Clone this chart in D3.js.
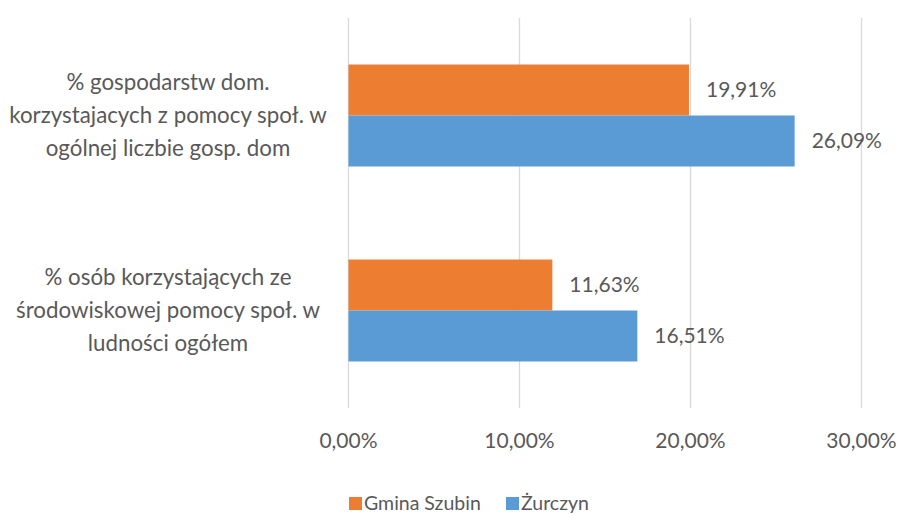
<!DOCTYPE html>
<html><head><meta charset="utf-8">
<script src="https://cdn.jsdelivr.net/npm/d3@7"></script>
<style>body{margin:0;background:#fff}svg{display:block}text{font-family:Lato,"Open Sans",sans-serif;fill:#595959}</style>
</head><body><div id="c"></div>
<script>
const categories = [
  ["% gospodarstw dom.", "korzystajacych z pomocy społ. w", "ogólnej liczbie gosp. dom"],
  ["% osób korzystających ze", "środowiskowej pomocy społ. w", "ludności ogółem"]
];
const seriesNames = ["Gmina Szubin", "Żurczyn"];
const seriesColors = ["#ED7D31", "#5B9BD5"];
// bar lengths as drawn in the picture
const gminaSzubin = [19.91, 11.92];
const zurczyn = [26.09, 16.89];
// data labels as printed
const gminaSzubinLabels = ["19,91%", "11,63%"];
const zurczynLabels = ["26,09%", "16,51%"];
const xTicks = [0, 10, 20, 30];

const W = 899, H = 514;
const m = {left: 348.5, right: 899 - 861.5, top: 18, bottom: 514 - 408};
const svg = d3.select("#c").append("svg").attr("width", W).attr("height", H);

const x = d3.scaleLinear().domain([0, 30]).range([m.left, W - m.right]);
const y = d3.scaleBand().domain(d3.range(categories.length)).range([m.top, H - m.bottom]).paddingInner(0.477).paddingOuter(0.2385);
const ys = d3.scaleBand().domain([0, 1]).range([0, y.bandwidth()]);

// gridlines
svg.append("g").selectAll("line").data(xTicks).join("line")
  .attr("x1", d => x(d)).attr("x2", d => x(d))
  .attr("y1", m.top).attr("y2", H - m.bottom)
  .attr("stroke", "#D9D9D9").attr("stroke-width", 1.3);

// tick labels
svg.append("g").selectAll("text").data(xTicks).join("text")
  .attr("x", d => x(d)).attr("y", 441).attr("dy", "0.35em")
  .attr("text-anchor", "middle").style("font-size", "21px")
  .text(d => d.toFixed(2).replace(".", ",") + "%");

const series = [gminaSzubin, zurczyn];
const labels = [gminaSzubinLabels, zurczynLabels];
series.forEach((vals, si) => {
  const g = svg.append("g");
  g.selectAll("rect").data(vals).join("rect")
    .attr("x", x(0)).attr("y", (d, i) => y(i) + ys(si))
    .attr("width", d => x(d) - x(0)).attr("height", ys.bandwidth())
    .attr("fill", seriesColors[si]);
  g.selectAll("text").data(vals).join("text")
    .attr("x", d => x(d) + 17).attr("y", (d, i) => y(i) + ys(si) + ys.bandwidth() / 2)
    .attr("dy", "0.35em").style("font-size", "21px")
    .text((d, i) => labels[si][i]);
});

// category labels
categories.forEach((lines, i) => {
  const cy = y(i) + y.bandwidth() / 2;
  const t = svg.append("text").attr("text-anchor", "middle").style("font-size", "22.3px");
  lines.forEach((ln, k) => {
    t.append("tspan").attr("x", 168).attr("y", cy + (k - 1) * 33).attr("dy", "0.35em").text(ln);
  });
});

// legend
const legX = [349, 506];
seriesNames.forEach((n, i) => {
  svg.append("rect").attr("x", legX[i]).attr("y", 497).attr("width", 13).attr("height", 13).attr("fill", seriesColors[i]);
  svg.append("text").attr("x", legX[i] + 15).attr("y", 503.5).attr("dy", "0.35em").style("font-size", "19.5px").text(n);
});
</script></body></html>
